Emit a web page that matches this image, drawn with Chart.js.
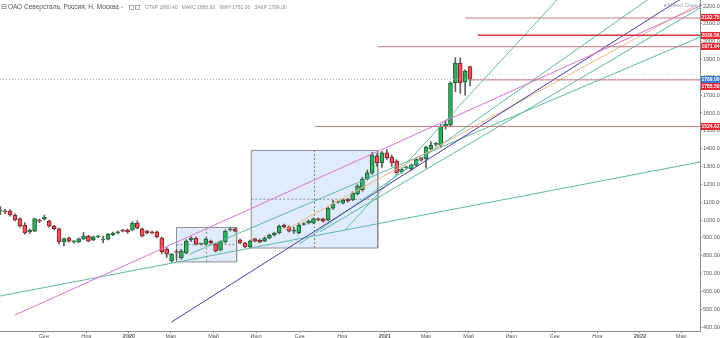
<!DOCTYPE html>
<html><head><meta charset="utf-8">
<script src="https://cdn.jsdelivr.net/npm/chart.js@4.4.1/dist/chart.umd.min.js"></script>
<style>html,body{margin:0;padding:0;background:#fff;overflow:hidden}canvas{display:block}</style>
</head><body>
<canvas id="c" width="720" height="338"></canvas>
<script>
// ---- data: weekly candles ----
const weeks = [
'2019-07-01','2019-07-08','2019-07-15','2019-07-22','2019-07-29','2019-08-05','2019-08-12','2019-08-19','2019-08-26',
'2019-09-02','2019-09-09','2019-09-16','2019-09-23','2019-09-30','2019-10-07','2019-10-14','2019-10-21','2019-10-28',
'2019-11-04','2019-11-11','2019-11-18','2019-11-25','2019-12-02','2019-12-09','2019-12-16','2019-12-23','2019-12-30',
'2020-01-06','2020-01-13','2020-01-20','2020-01-27','2020-02-03','2020-02-10','2020-02-17','2020-02-24','2020-03-02',
'2020-03-09','2020-03-16','2020-03-23','2020-03-30','2020-04-06','2020-04-13','2020-04-20','2020-04-27','2020-05-04',
'2020-05-11','2020-05-18','2020-05-25','2020-06-01','2020-06-08','2020-06-15','2020-06-22','2020-06-29','2020-07-06',
'2020-07-13','2020-07-20','2020-07-27','2020-08-03','2020-08-10','2020-08-17','2020-08-24','2020-08-31','2020-09-07',
'2020-09-14','2020-09-21','2020-09-28','2020-10-05','2020-10-12','2020-10-19','2020-10-26','2020-11-02','2020-11-09',
'2020-11-16','2020-11-23','2020-11-30','2020-12-07','2020-12-14','2020-12-21','2020-12-28','2021-01-04','2021-01-11',
'2021-01-18','2021-01-25','2021-02-01','2021-02-08','2021-02-15','2021-02-22','2021-03-01','2021-03-08','2021-03-15',
'2021-03-22','2021-03-29','2021-04-05','2021-04-12','2021-04-19','2021-04-26','2021-05-03'];
const opens = [1050,1050,1050,1028,1006,972,933,938,1000,1005,994,966,950,877,899,877,877,894,910,888,905,888,893,916,927,944,944,
944,983,950,938,933,933,899,837,770,822,787,815,888,899,865,865,882,866,832,877,944,950,888,871,849,894,888,882,899,916,927,972,961,938,927,975,983,983,1006,1006,1000,1067,1100,1095,1118,1112,1146,1168,1230,1264,1359,1320,
1376,1353,1331,1269,1292,1286,1308,1348,1342,1398,1424,1420,1527,1533,1768,1880,1774,1860.4];
const highs = [1075,1060,1058,1035,1012,985,950,1010,1005,1028,1000,970,955,900,905,885,900,930,915,910,915,910,925,932,938,948,950,
990,995,955,942,938,938,905,845,812,835,835,890,905,905,870,900,888,870,882,945,955,955,895,875,888,898,893,905,920,932,972,977,966,960,980,985,1000,1012,1012,1010,1072,1110,1108,1118,1122,1158,1198,1240,1280,1378,1372,1385,
1395,1365,1338,1292,1302,1314,1348,1352,1415,1440,1435,1535,1560,1775,1910,1908,1842,1860.6];
const lows = [1030,1035,1022,995,960,920,925,935,985,1000,960,944,865,855,875,870,872,890,878,884,900,872,888,912,922,933,925,
940,950,905,922,922,900,810,790,762,775,780,810,880,860,860,860,866,820,826,871,938,933,866,843,845,878,872,878,894,910,922,955,933,925,922,970,978,978,995,988,995,1060,1095,1090,1100,1108,1140,1162,1225,1255,1300,1295,
1340,1300,1255,1262,1285,1280,1300,1330,1290,1392,1415,1410,1510,1525,1720,1710,1700,1752];
const closes = [1056,1045,1028,1000,966,927,944,1006,994,1017,966,950,877,894,882,880,894,910,882,905,910,890,921,927,933,938,933,
983,955,910,927,927,905,821,809,809,818,826,882,899,865,866,894,871,826,877,938,950,938,871,849,882,882,877,899,916,927,966,961,938,944,972,978,994,1006,1000,994,1067,1090,1102,1112,1107,1151,1191,1230,1264,1365,1320,1376,
1348,1320,1264,1286,1297,1308,1342,1336,1409,1420,1428,1527,1538,1768,1880,1768,1835,1789];

// ---- axis ticks ----
const xTickDates = ['2019-09-01','2019-11-01','2020-01-01','2020-03-01','2020-05-01','2020-07-01','2020-09-01','2020-11-01',
'2021-01-01','2021-03-01','2021-05-01','2021-07-01','2021-09-01','2021-11-01','2022-01-01','2022-03-01'];
const xTickLabels = ['Сен','Ноя','2020','Мар','Май','Июл','Сен','Ноя','2021','Мар','Май','Июл','Сен','Ноя','2022','Мар'];
const yTickValues = [400,500,600,700,800,900,1000,1100,1200,1300,1400,1500,1600,1700,1800,1900,2000,2100,2200];

// ---- drawings ----
const levelPrices = [2132.75, 2036.56, 1971.64, 1785.59, 1524.62];
const levelStartDates = ['2021-04-26','2021-05-14','2020-12-22','2021-05-03','2020-09-23'];
const currentPrice = 1789.00;

const trendStartDates = ['2019-07-22','2020-03-02','2020-08-11','2019-07-01','2020-03-28','2020-11-05','2020-09-01','2020-09-30'];
const trendStartPrices = [467, 428, 944, 574, 809, 944, 865, 933];
const trendEndDates = ['2022-03-28','2022-03-21','2022-03-21','2022-03-28','2022-03-28','2021-09-20','2022-02-01','2022-03-28'];
const trendEndPrices = [2200, 2290, 2200, 1325, 2026, 2300, 2290, 2189];

const boxStartDates = ['2020-03-09','2020-06-24'];
const boxEndDates = ['2020-06-03','2020-12-22'];
const boxHighs = [958, 1390];
const boxLows = [765, 843];

const headerTitle = 'ОАО Северсталь, Россия, Н, Москва -';
const headerOHLC = 'ОТКР 1860.40   МАКС 1860.60   МИН 1752.00   ЗАКР 1789.00';

// ---- styles ----
const trendColors = ['#d873d4','#4a3aa9','#f1b584','#5db9a5','#5db9a5','#63bd9f','#5db9a5','#5db9a5'];
const UP_FILL='#2fae5f', UP_BORDER='#1c5e36', DN_FILL='#ee5159', DN_BORDER='#7a2328', WICK='#5d5d5d';
const XMIN = -184.5, XMAX = 817, YMIN = 377.6, YMAX = 2233.6;

const DAY0 = Date.UTC(2020,0,1);
function dn(s){const p=s.split('-').map(Number);return (Date.UTC(p[0],p[1]-1,p[2])-DAY0)/86400000;}

const isUp = i => closes[i] >= opens[i];
const datasets = [];

// boxes
boxStartDates.forEach((s,i)=>{
  const x1=dn(s), x2=dn(boxEndDates[i]), hi=boxHighs[i], lo=boxLows[i];
  datasets.push({type:'line', order:20, data:[{x:x1,y:lo},{x:x1,y:hi},{x:x2,y:hi},{x:x2,y:lo},{x:x1,y:lo}],
    borderColor:'#8d8f94', borderWidth:1, backgroundColor:'rgba(100,160,235,0.2)', fill:'shape', pointRadius:0, tension:0});
  const mx=(x1+x2)/2, my=(hi+lo)/2;
  datasets.push({type:'line', order:19, data:[{x:mx,y:lo},{x:mx,y:hi}], borderColor:'#8a8a8a', borderWidth:1, borderDash:[2,2], pointRadius:0, fill:false});
  datasets.push({type:'line', order:19, data:[{x:x1,y:my},{x:x2,y:my}], borderColor:'#8a8a8a', borderWidth:1, borderDash:[2,2], pointRadius:0, fill:false});
});

// candles
datasets.push({type:'bar', order:11, grouped:false, barThickness:1,
  data: weeks.map((w,i)=>({x:dn(w), y:[lows[i], highs[i]]})),
  backgroundColor: WICK, borderWidth:0});
datasets.push({type:'bar', order:10, grouped:false, barThickness:4, minBarLength:1, borderSkipped:false,
  data: weeks.map((w,i)=>({x:dn(w), y:[opens[i], closes[i]]})),
  backgroundColor: weeks.map((w,i)=>isUp(i)?UP_FILL:DN_FILL),
  borderColor: weeks.map((w,i)=>isUp(i)?UP_BORDER:DN_BORDER), borderWidth:1});

// trend lines
trendStartDates.forEach((s,i)=>{
  datasets.push({type:'line', order:5, data:[{x:dn(s),y:trendStartPrices[i]},{x:dn(trendEndDates[i]),y:trendEndPrices[i]}],
    borderColor:trendColors[i], borderWidth:1, pointRadius:0, fill:false, tension:0});
});

// current price dotted line
datasets.push({type:'line', order:4, data:[{x:XMIN,y:currentPrice},{x:XMAX,y:currentPrice}],
  borderColor:'#a5a5a5', borderWidth:1, borderDash:[1,2], pointRadius:0, fill:false});

// horizontal levels
levelPrices.forEach((p,i)=>{
  const strong = i===1;
  datasets.push({type:'line', order:3, data:[{x:dn(levelStartDates[i]),y:p},{x:XMAX,y:p}],
    borderColor: strong?'#d8353c':'#c8777d', borderWidth: strong?1.5:1, pointRadius:0, fill:false});
});

const overlay = {
  id:'overlay',
  afterDraw(chart){
    const ctx=chart.ctx, ys=chart.scales.y;
    ctx.save();
    // price tags
    const tags = levelPrices.map(v=>({v, c:'#e5262f'})).concat([{v:currentPrice, c:'#3a78d8'}]);
    tags.sort((a,b)=>b.v-a.v);
    let prev=-1e9; const h=7;
    ctx.font='bold 5px "Liberation Sans", Arial, sans-serif';
    ctx.textAlign='center'; ctx.textBaseline='middle';
    tags.forEach(t=>{
      let cy=ys.getPixelForValue(t.v);
      if (cy-h/2<prev) cy=prev+h/2;
      prev=cy+h/2;
      ctx.fillStyle=t.c; ctx.fillRect(701, Math.round(cy-h/2), 19, h);
      ctx.fillStyle='#fff'; ctx.fillText(t.v.toFixed(2), 710.5, Math.round(cy-h/2)+h/2+0.5);
    });
    // header
    ctx.textAlign='left'; ctx.textBaseline='middle';
    ctx.fillStyle='#555';
    ctx.font='6.5px "Liberation Sans", Arial, sans-serif';
    ctx.fillText('⊟', 1, 7.5);
    ctx.fillText(headerTitle, 8, 7.5);
    ctx.strokeStyle='#aaa'; ctx.lineWidth=1;
    ctx.strokeRect(129.5,5.5,4,4); ctx.strokeRect(135.5,5.5,4,4);
    ctx.fillStyle='#8a8a8a';
    ctx.font='5px "Liberation Sans", Arial, sans-serif';
    ctx.fillText(headerOHLC, 145, 7.5);
    // market closed
    ctx.fillStyle='#9aa3b0';
    ctx.fillRect(664,4.5,2,2);
    ctx.fillText('Market Closed', 668, 6);
    ctx.restore();
  }
};

Chart.defaults.font.family = '"Liberation Sans", Arial, sans-serif';
new Chart(document.getElementById('c'), {
  type:'bar',
  data:{datasets},
  options:{
    responsive:false, animation:false, devicePixelRatio:1, events:[],
    layout:{padding:0},
    plugins:{legend:{display:false}, tooltip:{enabled:false}},
    scales:{
      x:{type:'linear', min:XMIN, max:XMAX, offset:false,
        afterBuildTicks:s=>{s.ticks=xTickDates.map(d=>({value:dn(d)}));},
        afterFit:s=>{s.height=7; s.paddingLeft=0; s.paddingRight=0;},
        ticks:{autoSkip:false, maxRotation:0, padding:0, color:'#555',
          font:(c)=>({size:5.5, weight: /^\d{4}$/.test(xTickLabels[c.index]||'')?'bold':'normal'}),
          callback:(v,i)=>xTickLabels[i]},
        grid:{drawOnChartArea:false, offset:false, tickLength:2, color:'#8c8c8c'},
        border:{color:'#8c8c8c'}},
      y:{type:'linear', position:'right', min:YMIN, max:YMAX,
        afterBuildTicks:s=>{s.ticks=yTickValues.map(v=>({value:v}));},
        afterFit:s=>{s.width=20; s.paddingTop=0; s.paddingBottom=0;},
        ticks:{autoSkip:false, padding:1, color:'#555', font:{size:5.5}, callback:v=>Number(v).toFixed(2)},
        grid:{drawOnChartArea:false, tickLength:2, color:'#8c8c8c'},
        border:{color:'#8c8c8c'}}
    }
  },
  plugins:[overlay]
});
</script>
</body></html>
